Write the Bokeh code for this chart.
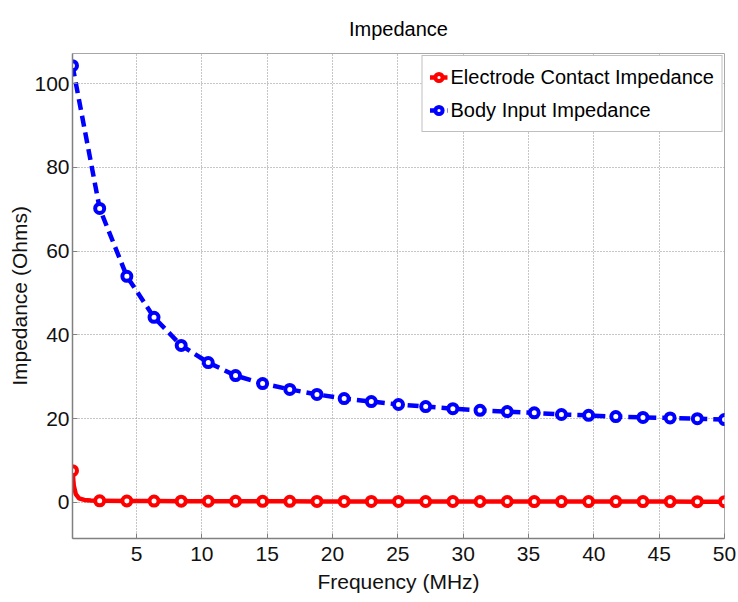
from bokeh.plotting import figure
from bokeh.models import Range1d, LegendItem, Legend, FixedTicker
from bokeh.embed import file_html
from bokeh.resources import INLINE

# ---- data ----
freq = [0.1, 2.18, 4.26, 6.34, 8.42, 10.49, 12.58, 14.65, 16.73, 18.81,
        20.89, 22.97, 25.05, 27.13, 29.21, 31.29, 33.37, 35.44, 37.52,
        39.60, 41.68, 43.76, 45.84, 47.92, 50.0]
body_input = [104.3, 70.2, 54.0, 44.2, 37.5, 33.4, 30.3, 28.4, 27.0, 25.8,
              24.8, 24.1, 23.4, 22.9, 22.4, 22.0, 21.7, 21.4, 21.0, 20.8,
              20.5, 20.3, 20.2, 20.0, 19.8]
electrode = [7.6, 0.4, 0.35, 0.33, 0.31, 0.3, 0.29, 0.28, 0.27, 0.26,
             0.26, 0.25, 0.25, 0.24, 0.24, 0.23, 0.23, 0.22, 0.22, 0.22,
             0.21, 0.21, 0.21, 0.2, 0.2]
# extra samples of the smooth electrode curve near its start
electrode_curve_f = [0.1, 0.2, 0.35, 0.6, 1.0, 1.5, 2.18]
electrode_curve_z = [7.6, 4.0, 2.0, 1.0, 0.6, 0.45, 0.4]

x_ticks = [5, 10, 15, 20, 25, 30, 35, 40, 45, 50]
y_ticks = [0, 20, 40, 60, 80, 100]

FONT = "Liberation Sans, Arial, sans-serif"
RED = "#ff0000"
BLUE = "#0000ff"

p = figure(width=738, height=602, output_backend="svg", toolbar_location=None,
           x_range=Range1d(0.1, 50), y_range=Range1d(-8.6, 107.2),
           title="Impedance",
           min_border_left=72, min_border_right=14,
           min_border_top=53, min_border_bottom=64)

p.title.align = "center"
p.title.text_font = FONT
p.title.text_font_size = "20px"
p.title.text_font_style = "normal"
p.title.text_color = "#000000"
p.title.standoff = 28

p.background_fill_color = "white"
p.border_fill_color = "white"
p.outline_line_color = "#a8a8a8"
p.outline_line_width = 1

for ax in (p.xaxis[0], p.yaxis[0]):
    ax.axis_line_color = "#808080"
    ax.axis_line_width = 1.5
    ax.major_tick_line_color = "#808080"
    ax.major_tick_in = 5
    ax.major_tick_out = 0
    ax.minor_tick_line_color = None
    ax.major_label_text_font = FONT
    ax.major_label_text_font_size = "21px"
    ax.major_label_text_color = "#111111"
    ax.axis_label_text_font = FONT
    ax.axis_label_text_font_size = "21px"
    ax.axis_label_text_font_style = "normal"
    ax.axis_label_text_color = "#111111"

p.xaxis.ticker = FixedTicker(ticks=x_ticks)
p.yaxis.ticker = FixedTicker(ticks=y_ticks)
p.xaxis.axis_label = "Frequency (MHz)"
p.yaxis.axis_label = "Impedance (Ohms)"
p.xaxis.major_label_standoff = 8
p.yaxis.major_label_standoff = 3
p.xaxis.axis_label_standoff = 6
p.yaxis.axis_label_standoff = 0

for g in (p.xgrid[0], p.ygrid[0]):
    g.grid_line_color = "#8c8c8c"
    g.grid_line_dash = "1 2"
    g.grid_line_width = 1

# Electrode contact impedance
red_curve = p.line(electrode_curve_f, electrode_curve_z, line_color=RED, line_width=4.5)
red_line = p.line(freq[1:], electrode[1:], line_color=RED, line_width=4.5)
red_pts = p.scatter(freq, electrode, marker="circle", size=9, line_color=RED,
                    line_width=4, fill_color="white")

# Body input impedance
blue_line = p.line(freq, body_input, line_color=BLUE, line_width=4.5, line_dash="11 6")
blue_pts = p.scatter(freq, body_input, marker="circle", size=9, line_color=BLUE,
                     line_width=4, fill_color="white")

legend = Legend(items=[
    LegendItem(label="Electrode Contact Impedance", renderers=[red_line, red_pts]),
    LegendItem(label="Body Input Impedance", renderers=[blue_line, blue_pts]),
], location="top_right")
legend.label_text_font = FONT
legend.label_text_font_size = "20px"
legend.label_text_color = "#000000"
legend.label_height = 28
legend.glyph_height = 28
legend.glyph_width = 18
legend.label_standoff = 3
legend.spacing = 5
legend.padding = 7
legend.margin = 2
legend.border_line_color = "#808080"
legend.border_line_width = 1
legend.background_fill_color = "white"
legend.background_fill_alpha = 1.0
p.add_layout(legend)

open("out.html", "w").write(file_html(p, INLINE))
